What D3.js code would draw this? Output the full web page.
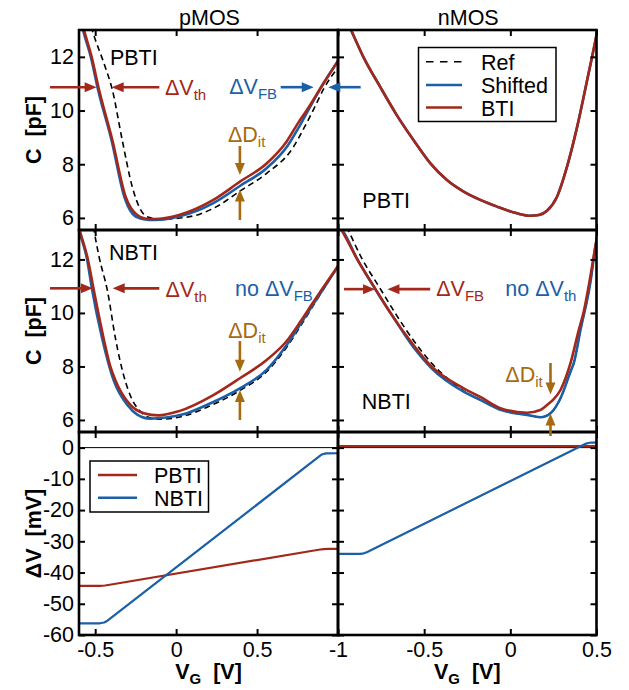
<!DOCTYPE html>
<html><head><meta charset="utf-8">
<script src="https://cdn.jsdelivr.net/npm/d3@7"></script>
<style>
body{margin:0;background:#fff}
svg{display:block}
text{font-family:"Liberation Sans",Arial,Helvetica,sans-serif}
</style>
</head><body>
<svg id="c" width="629" height="690"></svg>
<script>
// ---------------- DATA ----------------
// pMOS, PBTI  [V_G (V), C (pF)]
const pPbtiRef = [[-0.54,13.5],[-0.518,13.0],[-0.446,11.76],[-0.394,10.77],[-0.333,8.9],[-0.271,7.16],[-0.219,6.3],[-0.17,6.02],[-0.1,5.95],[0.0,5.98],[0.15,6.15],[0.25,6.42],[0.394,7.0],[0.559,7.66],[0.72,8.6],[0.79,9.35],[0.85,10.05],[0.915,10.85],[1.0,11.6]];
const pPbtiShift = [[-0.6,13.7],[-0.575,13.0],[-0.527,12.0],[-0.482,10.77],[-0.399,8.9],[-0.318,6.75],[-0.25,6.05],[-0.17,5.92],[-0.1,5.93],[0.018,6.05],[0.23,6.55],[0.394,7.19],[0.559,7.85],[0.69,8.7],[0.765,9.45],[0.82,10.05],[0.909,11.0],[1.0,11.85]];
const pPbtiBti = [[-0.6,13.75],[-0.569,13.0],[-0.522,12.0],[-0.476,10.77],[-0.394,8.9],[-0.312,6.79],[-0.24,6.11],[-0.168,5.96],[-0.1,5.97],[0.018,6.11],[0.23,6.67],[0.394,7.35],[0.559,8.03],[0.683,8.85],[0.755,9.55],[0.806,10.0],[0.909,11.0],[1.0,11.85]];
// nMOS, PBTI (all three curves coincide)
const nPbtiCurve = [[-1.0,14.1],[-0.92,12.94],[-0.853,12.0],[-0.756,10.89],[-0.659,9.83],[-0.562,8.9],[-0.465,8.04],[-0.368,7.41],[-0.271,6.98],[-0.174,6.67],[-0.077,6.42],[0.039,6.17],[0.116,6.08],[0.165,6.11],[0.213,6.27],[0.271,6.79],[0.329,7.91],[0.388,9.4],[0.446,11.14],[0.498,12.75],[0.52,13.5]];
const nPbtiRef = nPbtiCurve, nPbtiShift = nPbtiCurve, nPbtiBti = nPbtiCurve;
// pMOS, NBTI
const pNbtiRef = [[-0.52,13.6],[-0.507,13.09],[-0.476,12.1],[-0.425,10.85],[-0.373,8.99],[-0.322,7.62],[-0.271,6.75],[-0.229,6.37],[-0.17,6.1],[-0.1,6.03],[0.05,6.15],[0.2,6.5],[0.394,7.1],[0.559,7.8],[0.683,8.72],[0.78,9.62],[0.85,10.3],[0.92,10.98],[1.0,11.72]];
const pNbtiShift = [[-0.61,13.35],[-0.6,13.1],[-0.55,12.0],[-0.52,10.9],[-0.455,9.0],[-0.384,7.45],[-0.3,6.55],[-0.24,6.2],[-0.161,6.05],[-0.05,6.1],[0.05,6.22],[0.189,6.56],[0.394,7.18],[0.559,7.87],[0.683,8.8],[0.775,9.65],[0.85,10.35],[0.92,11.0],[1.0,11.75]];
const pNbtiBti = [[-0.61,13.4],[-0.594,13.05],[-0.545,12.0],[-0.51,10.9],[-0.446,9.0],[-0.409,8.05],[-0.374,7.47],[-0.291,6.62],[-0.199,6.25],[-0.11,6.17],[0.018,6.33],[0.23,6.93],[0.394,7.56],[0.559,8.24],[0.683,8.95],[0.765,9.65],[0.847,10.4],[0.92,11.05],[1.0,11.75]];
// nMOS, NBTI
const nNbtiRef = [[-1.0,13.9],[-0.94,13.09],[-0.862,12.04],[-0.756,10.92],[-0.659,9.9],[-0.542,8.8],[-0.465,8.18],[-0.33,7.37],[-0.271,7.08],[-0.174,6.75],[-0.058,6.38],[0.097,6.19],[0.174,6.1],[0.233,6.25],[0.291,6.81],[0.349,7.8],[0.368,8.12],[0.407,9.36],[0.465,11.16],[0.494,12.5],[0.52,13.4]];
const nNbtiShift = [[-1.0,13.25],[-0.975,13.09],[-0.888,12.0],[-0.78,10.85],[-0.69,9.95],[-0.56,8.7],[-0.46,7.95],[-0.271,7.06],[-0.174,6.75],[-0.058,6.38],[0.097,6.19],[0.174,6.1],[0.233,6.25],[0.291,6.81],[0.349,7.8],[0.368,8.12],[0.407,9.36],[0.465,11.16],[0.494,12.5],[0.52,13.4]];
const nNbtiBti = [[-1.0,13.3],[-0.979,13.09],[-0.891,12.04],[-0.785,10.92],[-0.698,10.02],[-0.562,8.8],[-0.465,8.05],[-0.271,7.18],[-0.174,6.86],[-0.058,6.44],[0.097,6.27],[0.174,6.37],[0.213,6.56],[0.252,6.78],[0.291,7.12],[0.349,8.12],[0.397,9.36],[0.426,10.05],[0.46,11.2],[0.494,12.5],[0.52,13.4]];
// Delta V (mV) vs V_G
const pDvPbti = [[-0.6,-44.3],[-0.47,-44.3],[-0.44,-44.15],[-0.41,-43.9],[0.88,-32.7],[0.91,-32.5],[0.94,-32.45],[1.0,-32.45]];
const pDvNbti = [[-0.6,-56.3],[-0.47,-56.25],[-0.445,-56.0],[-0.43,-55.6],[0.9,-2.2],[0.925,-1.85],[1.0,-1.8]];
const nDvPbti = [[-1.0,0.5],[0.5,0.5]];
const nDvNbti = [[-1.0,-34.0],[-0.87,-34.0],[-0.85,-33.85],[-0.83,-33.4],[0.44,1.3],[0.46,1.55],[0.47,1.6],[0.5,1.6]];

// ticks
const xTicksP = [-0.5, 0, 0.5];
const xTicksN = [-1, -0.5, 0, 0.5];
const yTicksC = [6, 8, 10, 12];
const yTicksDV = [0, -10, -20, -30, -40, -50, -60];
const titles = ["pMOS", "nMOS"];
const legendC = ["Ref", "Shifted", "BTI"];
const legendDV = ["PBTI", "NBTI"];

// ---------------- STYLE ----------------
const RED = "#A3281B", BLUE = "#1B5FA6", GOLD = "#A66A10";
const FS = 21.5;
const svg = d3.select("#c");

const xL = d3.scaleLinear().domain([-0.6, 1.0]).range([79, 338]);
const xR = d3.scaleLinear().domain([-1, 0.5]).range([338, 596.5]);
const yT = d3.scaleLinear().domain([5.55, 13]).range([230, 30]);
const yM = d3.scaleLinear().domain([5.55, 13.1]).range([432, 230]);
const yB = d3.scaleLinear().domain([-60, 5]).range([635, 432]);

const fmt = d => String(d);

const panels = [
  {id:"tl", x:xL, y:yT, xt:xTicksP, yt:yTicksC, ylab:true, xlab:false, smooth:true,
   curves:[[pPbtiRef,"ref"],[pPbtiShift,"shift"],[pPbtiBti,"bti"]]},
  {id:"tr", x:xR, y:yT, xt:xTicksN, yt:yTicksC, ylab:false, xlab:false, smooth:true,
   curves:[[nPbtiRef,"ref"],[nPbtiShift,"shift"],[nPbtiBti,"bti"]]},
  {id:"ml", x:xL, y:yM, xt:xTicksP, yt:yTicksC, ylab:true, xlab:false, smooth:true,
   curves:[[pNbtiRef,"ref"],[pNbtiShift,"shift"],[pNbtiBti,"bti"]]},
  {id:"mr", x:xR, y:yM, xt:xTicksN, yt:yTicksC, ylab:false, xlab:false, smooth:true,
   curves:[[nNbtiRef,"ref"],[nNbtiShift,"shift"],[nNbtiBti,"bti"]]},
  {id:"bl", x:xL, y:yB, xt:xTicksP, yt:yTicksDV, ylab:true, xlab:true, zero:true, smooth:false,
   curves:[[pDvPbti,"pb"],[pDvNbti,"nb"]]},
  {id:"br", x:xR, y:yB, xt:xTicksN, yt:yTicksDV, ylab:false, xlab:true, zero:true, smooth:false,
   curves:[[nDvPbti,"pb"],[nDvNbti,"nb"]]},
];
const styles = {
  ref:{stroke:"#000", w:1.6, dash:"6,4"},
  shift:{stroke:BLUE, w:2.6},
  bti:{stroke:RED, w:2.6},
  pb:{stroke:RED, w:2.2},
  nb:{stroke:BLUE, w:2.2},
};

const defs = svg.append("defs");

panels.forEach(p => {
  const [x0, x1] = p.x.range();
  const [y1, y0] = p.y.range();
  defs.append("clipPath").attr("id", "clip-" + p.id)
    .append("rect").attr("x", x0).attr("y", y0).attr("width", x1 - x0).attr("height", y1 - y0);
  const g = svg.append("g");
  const cg = g.append("g").attr("clip-path", `url(#clip-${p.id})`);
  if (p.zero) {
    cg.append("line").attr("x1", x0).attr("x2", x1).attr("y1", p.y(0)).attr("y2", p.y(0))
      .attr("stroke", "#000").attr("stroke-width", 1);
  }
  const line = d3.line().x(d => p.x(d[0])).y(d => p.y(d[1]))
    .curve(p.smooth ? d3.curveMonotoneX : d3.curveLinear);
  p.curves.forEach(([data, st]) => {
    const s = styles[st];
    cg.append("path").attr("d", line(data)).attr("fill", "none")
      .attr("stroke", s.stroke).attr("stroke-width", s.w)
      .attr("stroke-dasharray", s.dash || null)
      .attr("stroke-linejoin", "round");
  });
  // axes with inner ticks
  const styleAxis = a => {
    a.select(".domain").remove();
    a.selectAll(".tick line").attr("stroke", "#000").attr("stroke-width", 2);
    a.selectAll(".tick text").attr("font-size", FS).attr("fill", "#000")
      .attr("font-family", '"Liberation Sans",Arial,sans-serif');
  };
  g.append("g").attr("transform", `translate(0,${y1})`)
    .call(d3.axisBottom(p.x).tickValues(p.xt).tickSize(-6).tickPadding(7)
      .tickFormat(p.xlab ? fmt : () => "")).call(styleAxis);
  g.append("g").attr("transform", `translate(0,${y0})`)
    .call(d3.axisTop(p.x).tickValues(p.xt).tickSize(-6).tickFormat(() => "")).call(styleAxis);
  g.append("g").attr("transform", `translate(${x0},0)`)
    .call(d3.axisLeft(p.y).tickValues(p.yt).tickSize(-6).tickPadding(5)
      .tickFormat(p.ylab ? fmt : () => "")).call(styleAxis);
  g.append("g").attr("transform", `translate(${x1},0)`)
    .call(d3.axisRight(p.y).tickValues(p.yt).tickSize(-6).tickFormat(() => "")).call(styleAxis);
  g.append("rect").attr("x", x0).attr("y", y0).attr("width", x1 - x0).attr("height", y1 - y0)
    .attr("fill", "none").attr("stroke", "#000").attr("stroke-width", 2.6);
});

// titles
[[xL, titles[0]], [xR, titles[1]]].forEach(([sc, t]) => {
  const r = sc.range();
  svg.append("text").attr("x", (r[0] + r[1]) / 2 + 1).attr("y", 25)
    .attr("text-anchor", "middle").attr("font-size", FS).text(t);
});

// axis titles
function yLabel(cy, main, unit) {
  svg.append("text").attr("transform", `translate(41,${cy}) rotate(-90)`)
    .attr("text-anchor", "middle").attr("font-size", FS).attr("font-weight", "bold")
    .text(main + "\u00A0\u00A0" + unit);
}
yLabel((yT.range()[0] + yT.range()[1]) / 2, "C", "[pF]");
yLabel((yM.range()[0] + yM.range()[1]) / 2, "C", "[pF]");
yLabel((yB.range()[0] + yB.range()[1]) / 2, "\u0394V", "[mV]");

[xL, xR].forEach(sc => {
  const r = sc.range();
  const t = svg.append("text").attr("x", (r[0] + r[1]) / 2).attr("y", 679)
    .attr("text-anchor", "middle").attr("font-size", FS).attr("font-weight", "bold");
  t.append("tspan").text("V");
  t.append("tspan").attr("font-size", 15).attr("dy", 5).text("G");
  t.append("tspan").attr("dy", -5).text("\u00A0\u00A0[V]");
});

// ---------------- ANNOTATIONS ----------------
function arrow(x1, y1, x2, y2, color) {
  const L = 12, Wd = 5;
  const dx = x2 - x1, dy = y2 - y1, len = Math.hypot(dx, dy);
  const ux = dx / len, uy = dy / len;
  const bx = x2 - ux * L, by = y2 - uy * L;
  svg.append("line").attr("x1", x1).attr("y1", y1).attr("x2", bx + ux * 1).attr("y2", by + uy * 1)
    .attr("stroke", color).attr("stroke-width", 2.6);
  svg.append("path").attr("d", `M${x2},${y2}L${bx - uy * Wd},${by + ux * Wd}L${bx + uy * Wd},${by - ux * Wd}Z`)
    .attr("fill", color);
}
function label(x, y, parts, color, anchor) {
  const t = svg.append("text").attr("x", x).attr("y", y).attr("fill", color)
    .attr("font-size", FS).attr("text-anchor", anchor || "start");
  let sub = false;
  parts.forEach(([s, isSub]) => {
    const ts = t.append("tspan").text(s);
    if (isSub && !sub) { ts.attr("font-size", 15).attr("dy", 5); sub = true; }
    else if (!isSub && sub) { ts.attr("dy", -5); sub = false; }
    else if (isSub) ts.attr("font-size", 15);
  });
}

// top-left (pMOS PBTI)
label(xL(-0.409), yT(11.70), [["PBTI"]], "#000");
arrow(xL(-0.779), yT(10.87), xL(-0.491), yT(10.87), RED);
arrow(xL(-0.104), yT(10.87), xL(-0.398), yT(10.87), RED);
label(xL(-0.069), yT(10.58), [["\u0394V"], ["th", 1]], RED);
label(xL(0.328), yT(10.60), [["\u0394V"], ["FB", 1]], BLUE);
arrow(xL(0.646), yT(10.87), xL(0.85), yT(10.87), BLUE);
arrow(xL(1.14), yT(10.87), xL(0.94), yT(10.87), BLUE);
label(xL(0.32), yT(8.84), [["\u0394D"], ["it", 1]], GOLD);
arrow(xL(0.394), yT(8.68), xL(0.394), yT(7.6), GOLD);
arrow(xL(0.394), yT(5.92), xL(0.394), yT(7.06), GOLD);
// top-right (nMOS PBTI)
label(xR(-0.859), yT(6.36), [["PBTI"]], "#000");
// middle-left (pMOS NBTI)
label(xL(-0.415), yM(11.98), [["NBTI"]], "#000");
arrow(xL(-0.779), yM(10.92), xL(-0.515), yM(10.92), RED);
arrow(xL(-0.104), yM(10.92), xL(-0.392), yM(10.92), RED);
label(xL(-0.065), yM(10.61), [["\u0394V"], ["th", 1]], RED);
label(xL(0.364), yM(10.64), [["no \u0394V"], ["FB", 1]], BLUE);
label(xL(0.322), yM(9.05), [["\u0394D"], ["it", 1]], GOLD);
arrow(xL(0.394), yM(8.95), xL(0.394), yM(7.80), GOLD);
arrow(xL(0.394), yM(6.0), xL(0.394), yM(7.12), GOLD);
// middle-right (nMOS NBTI)
arrow(xR(-0.965), yM(10.89), xR(-0.785), yM(10.89), RED);
arrow(xR(-0.465), yM(10.89), xR(-0.713), yM(10.89), RED);
label(xR(-0.430), yM(10.64), [["\u0394V"], ["FB", 1]], RED);
label(xR(-0.029), yM(10.64), [["no \u0394V"], ["th", 1]], BLUE);
label(xR(-0.862), yM(6.40), [["NBTI"]], "#000");
label(xR(-0.029), yM(7.43), [["\u0394D"], ["it", 1]], GOLD);
arrow(xR(0.233), yM(8.13), xR(0.233), yM(6.95), GOLD);
arrow(xR(0.233), yM(5.40), xR(0.233), yM(6.24), GOLD);

// ---------------- LEGENDS ----------------
function legend(bx, by, bw, bh, items, lx0, lx1, tx, rows) {
  svg.append("rect").attr("x", bx).attr("y", by).attr("width", bw).attr("height", bh)
    .attr("fill", "#fff").attr("stroke", "#000").attr("stroke-width", 1.5);
  items.forEach((it, i) => {
    const s = styles[it.st];
    svg.append("line").attr("x1", lx0).attr("x2", lx1).attr("y1", rows[i]).attr("y2", rows[i])
      .attr("stroke", s.stroke).attr("stroke-width", it.st === "ref" ? 1.6 : 2.6)
      .attr("stroke-dasharray", it.st === "ref" ? "7.5,6.5" : null);
    svg.append("text").attr("x", tx).attr("y", rows[i] + 8).attr("font-size", FS).text(it.name);
  });
}
legend(418.5, 47.5, 137.5, 74, [{name:legendC[0], st:"ref"}, {name:legendC[1], st:"shift"}, {name:legendC[2], st:"bti"}],
  426, 462, 481, [61.7, 85, 107.5]);
legend(90, 461, 118.5, 51, [{name:legendDV[0], st:"pb"}, {name:legendDV[1], st:"nb"}],
  98, 137, 154, [475, 497.7]);
</script>
</body></html>
